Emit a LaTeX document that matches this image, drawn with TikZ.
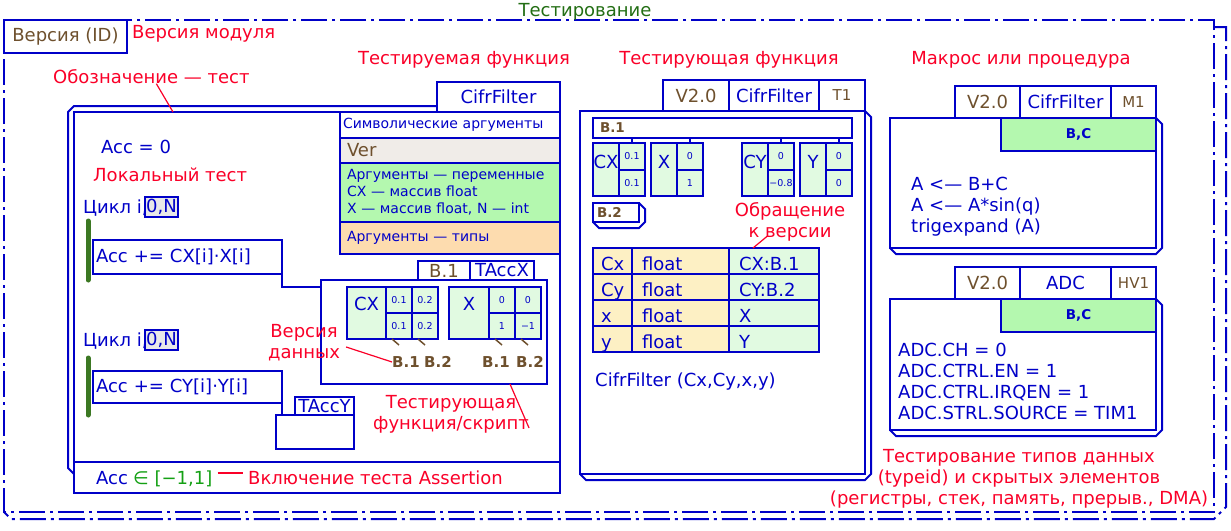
\documentclass[tikz,border=0pt]{standalone}
\usepackage{fontspec}
\setmainfont{DejaVu Sans}

\definecolor{lblue}{RGB}{0,0,200}
\definecolor{tred}{RGB}{250,0,40}
\definecolor{tbrown}{RGB}{110,80,45}
\definecolor{tgreen}{RGB}{35,110,20}
\definecolor{agreen}{RGB}{20,160,20}
\definecolor{bargreen}{RGB}{60,120,35}
\definecolor{cellgreen}{RGB}{225,250,225}
\definecolor{bandgreen}{RGB}{180,248,175}
\definecolor{vergray}{RGB}{240,236,232}
\definecolor{typeorange}{RGB}{253,220,175}
\definecolor{argyellow}{RGB}{253,240,196}
\definecolor{ngray}{RGB}{232,232,232}

\newcommand{\txtL}{\fontsize{18}{21}\selectfont}
\newcommand{\txtM}{\fontsize{14}{17}\selectfont}
\newcommand{\txtT}{\fontsize{15}{17}\selectfont}
\newcommand{\txtS}{\fontsize{9.5}{11}\selectfont}
\newcommand{\txtB}{\fontsize{13.5}{16}\selectfont\bfseries}
\newcommand{\txtV}{\fontsize{15}{17}\selectfont\bfseries}

\begin{document}
\begin{tikzpicture}[x=1pt, y=-1pt,
    frame/.style={draw=lblue, line width=2pt, dash pattern=on 26pt off 5pt on 3pt off 5pt},
    ln/.style={draw=lblue, line width=2pt},
    box/.style={ln, anchor=north west, inner sep=0pt, outer sep=0pt, text=lblue, font=\txtL},
    lbl/.style={inner sep=0pt, font=\txtL, text height=13pt, text depth=0pt},
    red/.style={lbl, text=tred},
    blu/.style={lbl, text=lblue},
    vlbl/.style={inner sep=0pt, font=\txtV, text=tbrown, text height=11pt, text depth=0pt},
    note/.style={inner sep=0pt, font=\txtL, text=tred, align=center},
    code/.style={anchor=north west, inner sep=0pt, font=\txtL, text=lblue, align=left},
    cell/.style={box, fill=cellgreen, font=\txtS, minimum width=26pt},
    row/.style={box, minimum height=26pt, align=left, text height=20pt, text depth=1pt},
    link/.style={draw=tred, line width=1.2pt},
    vtick/.style={draw=tbrown, line width=1.5pt},
    loopbar/.style={draw=bargreen, line width=5pt, line cap=round},
    ]
    \useasboundingbox (0,0) rectangle (1231,530);

    % module frame
    \draw[frame] (4,20) rectangle (1214,512);
    \draw[frame] (1214,27) -- (1226,27) -- (1226,507) -- (1214,519) -- (11,519) -- (4,512);
    \node[lbl, text=tgreen] (title) at (585,10) {Тестирование};
    \node[box, text=tbrown, minimum width=123pt, minimum height=33pt] (modver) at (4,20) {Версия (ID)};
    \node[red, anchor=west] (modverl) at (132,32) {Версия модуля};

    % test
    \node[red, anchor=west] (oboz) at (53,77) {Обозначение — тест};
    \draw[ln] (437,106) -- (74,106) -- (68,112) -- (68,468) -- (74,474);
    \node[box, minimum width=486pt, minimum height=381pt] (testbox) at (74,112) {};
    \node[box, minimum width=123pt, minimum height=30pt] (testname) at (437,82) {CifrFilter};
    \draw[link] ([xshift=5pt]oboz.south) -- ([xshift=99pt]testbox.north west);

    \node[box, fill=white, minimum width=220pt, minimum height=26pt, font=\txtM,
      align=left, text width=214pt, inner xsep=3pt] (symargs) at (340,112) {Символические аргументы};
    \node[box, fill=vergray, minimum width=220pt, minimum height=25pt, text=tbrown,
      align=left, text width=206pt, inner xsep=7pt] (verrow) at (340,138) {Ver};
    \node[box, fill=bandgreen, minimum width=220pt, minimum height=59pt, font=\txtM,
      align=left, text width=206pt, inner xsep=7pt] (argvars) at (340,163)
      {Аргументы — переменные\\CX — массив float\\X — массив float, N — int};
    \node[box, fill=typeorange, minimum width=220pt, minimum height=32pt, font=\txtM,
      align=left, text width=206pt, inner xsep=7pt] (argtypes) at (340,222) {Аргументы — типы};

    \node[blu, anchor=west] (acc0) at (101,147) {Acc = 0};
    \node[red, anchor=west] (loctest) at (93,175) {Локальный тест};

    \node[blu, anchor=west] (loop1) at (83,207) {Цикл i,};
    \node[box, fill=ngray, line width=1.5pt, minimum width=33pt, minimum height=20pt] (rng1) at (145,197) {0,N};
    \draw[loopbar] (88,221) -- (88,280);
    \node[box, minimum width=189pt, minimum height=34pt, align=left, text width=183pt,
      inner xsep=3pt] (accx) at (93,240) {Acc += CX[i]·X[i]};

    \node[box, fill=white, minimum width=226pt, minimum height=104pt] (databox) at (321,280) {};
    \draw[ln] (accx.south east) |- ([yshift=-7pt]databox.north west);
    \node[box, text=tbrown, minimum width=52pt, minimum height=19pt] (dataver) at (418,261) {B.1};
    \node[box, minimum width=64pt, minimum height=19pt] (dataname) at (470,261) {TAccX};

    \node[box, fill=cellgreen, minimum width=39pt, minimum height=52pt, text height=13pt,
      text depth=19pt] (dcxlab) at (347,287) {CX};
    \foreach \v [count=\i from 0] in {0.1,0.2,0.1,0.2}
      \node[cell, minimum height=26pt] (dcx\i) at ({386+26*mod(\i,2)},{287+26*int(\i/2)}) {\v};
    \node[box, fill=cellgreen, minimum width=40pt, minimum height=52pt, text height=13pt,
      text depth=19pt] (dxlab) at (449,287) {X};
    \foreach \v [count=\i from 0] in {0,0,1,−1}
      \node[cell, minimum height=26pt] (dx\i) at ({489+26*mod(\i,2)},{287+26*int(\i/2)}) {\v};
    \foreach \c in {dcx2,dcx3,dx2,dx3}
      \draw[vtick] ([xshift=6pt]\c.south west) -- ++(7,6);
    \node[vlbl] (dcxv1) at (406,362) {B.1};
    \node[vlbl] (dcxv2) at (438,362) {B.2};
    \node[vlbl] (dxv1) at (496,362) {B.1};
    \node[vlbl] (dxv2) at (530,362) {B.2};

    \node[note] (verdata) at (304,343) {Версия\\данных};
    \draw[link] ([xshift=6pt,yshift=-4pt]verdata.east) -- (dcxv1.west);
    \node[note] (tscript) at (451,414) {Тестирующая\\функция/скрипт};
    \draw[link] ([xshift=-37pt]databox.south east) -- ([yshift=-14pt]tscript.east);

    \node[blu, anchor=west] (loop2) at (83,340) {Цикл i,};
    \node[box, fill=ngray, line width=1.5pt, minimum width=33pt, minimum height=20pt] (rng2) at (145,330) {0,N};
    \draw[loopbar] (88,358) -- (88,415);
    \node[box, minimum width=189pt, minimum height=32pt, align=left, text width=183pt,
      inner xsep=3pt] (accy) at (93,371) {Acc += CY[i]·Y[i]};
    \node[box, minimum width=78pt, minimum height=34pt] (ybox) at (276,415) {};
    \node[box, minimum width=59pt, minimum height=18pt] (yname) at (295,397) {TAccY};
    \draw[ln] (accy.south east) -- (accy.south east |- ybox.north);

    \node[box, minimum width=486pt, minimum height=31pt] (assertbox) at (74,462) {};
    \node[blu, anchor=west] (asacc) at (96,478) {Acc};
    \node[lbl, text=agreen, anchor=west] (asrange) at (133,478) {∈ [−1,1]};
    \node[red, anchor=west] (asnote) at (248,478) {Включение теста Assertion};
    \draw[link] ([xshift=5pt,yshift=5pt]asrange.east) -- ([xshift=-5pt,yshift=5pt]asnote.west);

    % headings
    \node[red] (hfun) at (464,58) {Тестируемая функция};
    \node[red] (htest) at (729,58) {Тестирующая функция};
    \node[red] (hmacro) at (1021,58) {Макрос или процедура};

    % testing function
    \draw[ln] (865,111) -- (871,117) -- (871,474) -- (865,480) -- (586,480) -- (580,474);
    \node[box, fill=white, minimum width=285pt, minimum height=363pt] (tbox) at (580,111) {};
    \node[box, text=tbrown, minimum width=66pt, minimum height=31pt] (tver) at (663,80) {V2.0};
    \node[box, minimum width=90pt, minimum height=31pt] (tname) at (729,80) {CifrFilter};
    \node[box, text=tbrown, font=\txtT, minimum width=46pt, minimum height=31pt] (tid) at (819,80) {T1};

    \node[box, text=tbrown, font=\txtB, minimum width=259pt, minimum height=20pt, align=left,
      text width=245pt, inner xsep=7pt] (tbar1) at (593,118) {B.1};
    \foreach \nm/\lab/\x/\va/\vb in {tcx/CX/593/0.1/0.1, tx/X/651/0/1, tcy/CY/742/0/−0.8, ty/Y/800/0/0} {
      \node[box, fill=cellgreen, minimum width=26pt, minimum height=53pt, text height=13pt,
        text depth=15pt] (\nm) at (\x,143) {\lab};
      \node[cell, minimum height=27pt] (\nm1) at (\x+26,143) {\va};
      \node[cell, minimum height=26pt] (\nm2) at (\x+26,170) {\vb};
      \draw[ln, line width=1.5pt] (\nm1.north) -- (\nm1.north |- tbar1.south);
    }
    \draw[ln] (639,203) -- (645,209) -- (645,222) -- (639,228) -- (599,228) -- (593,222);
    \node[box, text=tbrown, font=\txtB, minimum width=46pt, minimum height=19pt, align=left,
      text width=38pt, inner xsep=4pt] (tbar2) at (593,203) {B.2};

    \node[note] (hver) at (790,222) {Обращение\\к версии};
    \foreach \a/\c [count=\i] in {Cx/CX:B.1, Cy/CY:B.2, x/X, y/Y} {
      \node[row, fill=argyellow, text width=23pt, inner xsep=8pt] (ta\i) at (593,{222+26*\i}) {\a};
      \node[row, fill=argyellow, text width=77pt, inner xsep=10pt] (tb\i) at (632,{222+26*\i}) {float};
      \node[row, fill=cellgreen, text width=70pt, inner xsep=10pt] (tc\i) at (729,{222+26*\i}) {\c};
    }
    \draw[link] ([xshift=-22pt,yshift=6pt]hver.south) -- ([xshift=24pt]tc1.north west);
    \node[blu, anchor=west] (tcall) at (595,380) {CifrFilter (Cx,Cy,x,y)};

    % macro
    \draw[ln] (1156,118) -- (1162,124) -- (1162,248) -- (1156,254) -- (896,254) -- (890,248);
    \node[box, fill=white, minimum width=266pt, minimum height=130pt] (mbox) at (890,118) {};
    \node[box, text=tbrown, minimum width=65pt, minimum height=32pt] (mver) at (955,86) {V2.0};
    \node[box, minimum width=91pt, minimum height=32pt] (mname) at (1020,86) {CifrFilter};
    \node[box, text=tbrown, font=\txtT, minimum width=45pt, minimum height=32pt] (mid) at (1111,86) {M1};
    \node[box, fill=bandgreen, font=\txtB, minimum width=155pt, minimum height=33pt] (mband) at (1001,118) {B,C};
    \node[code] (mcode) at (911,177) {A <— B+C\\A <— A*sin(q)\\trigexpand (A)};

    % hardware
    \draw[ln] (1156,299) -- (1162,305) -- (1162,430) -- (1156,436) -- (896,436) -- (890,430);
    \node[box, fill=white, minimum width=266pt, minimum height=131pt] (abox) at (890,299) {};
    \node[box, text=tbrown, minimum width=65pt, minimum height=32pt] (aver) at (955,267) {V2.0};
    \node[box, minimum width=91pt, minimum height=32pt] (aname) at (1020,267) {ADC};
    \node[box, text=tbrown, font=\txtT, minimum width=45pt, minimum height=32pt] (aid) at (1111,267) {HV1};
    \node[box, fill=bandgreen, font=\txtB, minimum width=155pt, minimum height=33pt] (aband) at (1001,299) {B,C};
    \node[code] (acode) at (898,343) {ADC.CH = 0\\ADC.CTRL.EN = 1\\ADC.CTRL.IRQEN = 1\\ADC.STRL.SOURCE = TIM1};

    \node[note] (typenote) at (1019,479)
      {Тестирование типов данных\\(typeid) и скрытых элементов\\(регистры, стек, память, прерыв., DMA)};
\end{tikzpicture}
\end{document}
